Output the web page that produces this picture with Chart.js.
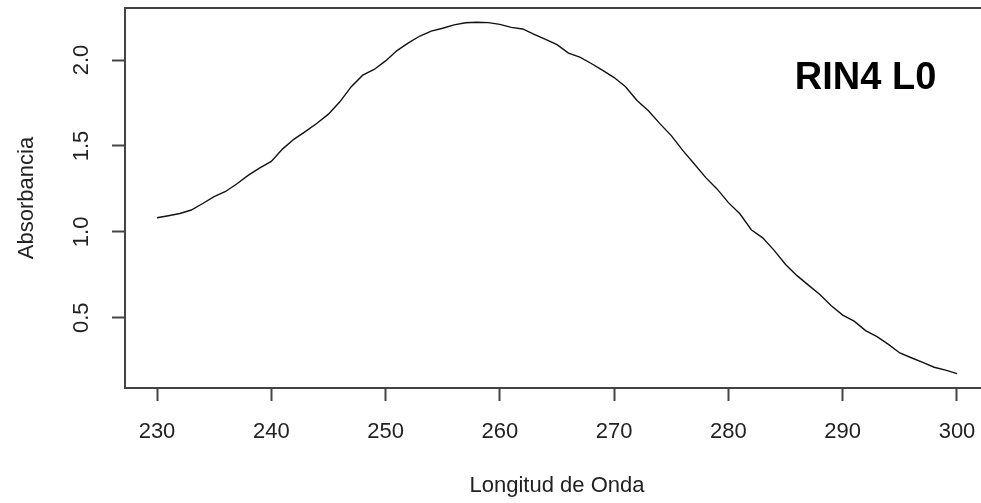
<!DOCTYPE html>
<html>
<head>
<meta charset="utf-8">
<script src="https://cdn.jsdelivr.net/npm/chart.js@4"></script>
<style>
  html, body { margin: 0; padding: 0; background: #fff; overflow: hidden; }
  #wrap { width: 992px; height: 503px; }
</style>
</head>
<body>
<div id="wrap"><canvas id="chart" width="992" height="503"></canvas></div>
<script>
// UV absorption spectrum of sample RIN4 L0

const wavelengths = [
  230, 231, 232, 233, 234, 235, 236, 237, 238, 239,
  240, 241, 242, 243, 244, 245, 246, 247, 248, 249,
  250, 251, 252, 253, 254, 255, 256, 257, 258, 259,
  260, 261, 262, 263, 264, 265, 266, 267, 268, 269,
  270, 271, 272, 273, 274, 275, 276, 277, 278, 279,
  280, 281, 282, 283, 284, 285, 286, 287, 288, 289,
  290, 291, 292, 293, 294, 295, 296, 297, 298, 299,
  300,
];

const absorbance = [
  1.082, 1.094, 1.107, 1.127, 1.165, 1.205, 1.235, 1.28, 1.33, 1.372,
  1.41, 1.483, 1.54, 1.585, 1.632, 1.685, 1.757, 1.845, 1.912, 1.945,
  1.995, 2.055, 2.10, 2.14, 2.168, 2.185, 2.205, 2.217, 2.22, 2.218,
  2.208, 2.19, 2.181, 2.15, 2.12, 2.09, 2.04, 2.017, 1.98, 1.94,
  1.898, 1.845, 1.765, 1.705, 1.63, 1.56, 1.474, 1.396, 1.317, 1.25,
  1.17, 1.105, 1.012, 0.965, 0.892, 0.81, 0.745, 0.69, 0.635, 0.57,
  0.515, 0.48, 0.425, 0.39, 0.345, 0.295, 0.267, 0.24, 0.212, 0.195,
  0.175,
];

const xTicks = [230, 240, 250, 260, 270, 280, 290, 300];
const yTicks = [0.5, 1.0, 1.5, 2.0];

const xTitle = "Longitud de Onda";
const yTitle = "Absorbancia";
const sampleLabel = "RIN4 L0";
const labelPos = { x: 292, y: 1.89 };

const FONT = "'Liberation Sans', Arial, sans-serif";
const INK = "#222";
const AXIS = "#444";

Chart.defaults.font.family = FONT;
Chart.defaults.color = INK;

// no extra room for the end labels, the frame is placed by hand
function fixBox(scale, size) {
  if (scale.isHorizontal()) scale.height = size;
  else scale.width = size;
  scale.paddingTop = 0;
  scale.paddingBottom = 0;
  scale.paddingLeft = 0;
  scale.paddingRight = 0;
}

const framePlugin = {
  id: "frame",
  afterDatasetsDraw(chart) {
    const { ctx, chartArea: a, scales } = chart;
    ctx.save();
    ctx.strokeStyle = AXIS;
    ctx.lineWidth = 2;
    ctx.strokeRect(a.left, a.top, a.right - a.left, a.bottom - a.top);

    ctx.fillStyle = "#000";
    ctx.font = "bold 38px " + FONT;
    ctx.textAlign = "center";
    ctx.textBaseline = "middle";
    ctx.fillText(
      sampleLabel,
      scales.x.getPixelForValue(labelPos.x),
      scales.y.getPixelForValue(labelPos.y)
    );
    ctx.restore();
  },
};

new Chart(document.getElementById("chart"), {
  type: "line",
  data: {
    datasets: [
      {
        label: sampleLabel,
        data: wavelengths.map((w, i) => ({ x: w, y: absorbance[i] })),
        borderColor: "#111",
        borderWidth: 1.4,
        pointRadius: 0,
        fill: false,
        tension: 0,
      },
    ],
  },
  options: {
    responsive: false,
    animation: false,
    layout: { padding: { top: 8, right: 3, left: 0, bottom: 0 } },
    plugins: {
      legend: { display: false },
      tooltip: { enabled: false },
    },
    scales: {
      x: {
        type: "linear",
        min: 227.2,
        max: 302.8,
        afterBuildTicks: (scale) => {
          scale.ticks = xTicks.map((v) => ({ value: v }));
        },
        afterFit: (scale) => fixBox(scale, 115),
        grid: {
          drawOnChartArea: false,
          drawTicks: true,
          tickLength: 13,
          tickColor: AXIS,
          tickWidth: 2,
        },
        border: { display: false },
        ticks: {
          font: { size: 22 },
          color: INK,
          padding: 18,
          maxRotation: 0,
          autoSkip: false,
        },
        title: {
          display: true,
          text: xTitle,
          font: { size: 22 },
          color: INK,
          padding: { top: 0, bottom: 4 },
        },
      },
      y: {
        type: "linear",
        min: 0.091,
        max: 2.303,
        afterBuildTicks: (scale) => {
          scale.ticks = yTicks.map((v) => ({ value: v }));
        },
        afterFit: (scale) => fixBox(scale, 125),
        grid: {
          drawOnChartArea: false,
          drawTicks: true,
          tickLength: 13,
          tickColor: AXIS,
          tickWidth: 2,
        },
        border: { display: false },
        ticks: {
          font: { size: 22 },
          color: INK,
          padding: 15,
          minRotation: 90,
          maxRotation: 90,
          crossAlign: "center",
          autoSkip: false,
          callback: (value) => value.toFixed(1),
        },
        title: {
          display: true,
          text: yTitle,
          font: { size: 22 },
          color: INK,
          padding: { top: 14, bottom: 0 },
        },
      },
    },
  },
  plugins: [framePlugin],
});
</script>
</body>
</html>
